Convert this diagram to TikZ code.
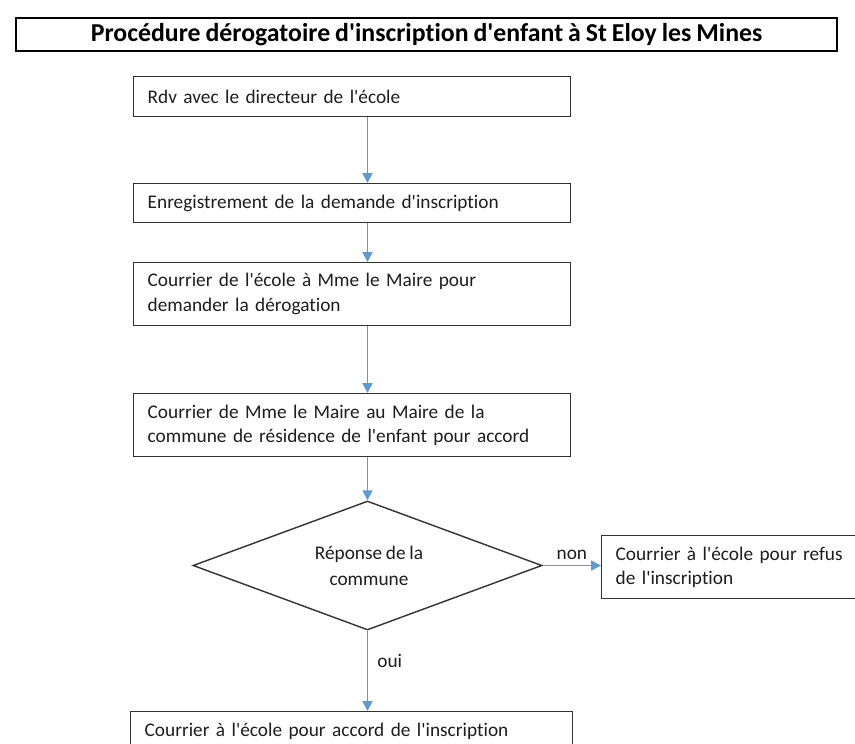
\documentclass[tikz,border=0pt]{standalone}
\usepackage{fontspec}
\newfontfamily\calf{Carlito}[RawFeature={-liga;-calt;-clig}, WordSpace=0.85]
\usetikzlibrary{shapes.geometric,arrows.meta}
\definecolor{arrblue}{HTML}{5B9BD5}
\definecolor{boxgray}{HTML}{333333}
\definecolor{txt}{HTML}{1E1E1E}
\tikzset{
  stepbox/.style={draw=boxgray, line width=1.4pt, rectangle, inner xsep=14pt, inner ysep=0pt,
    align=left, text=txt, font=\calf\fontsize{19.3}{24.5}\selectfont, anchor=north west},
  decide/.style={draw=boxgray, line width=1.4pt, diamond, inner sep=0pt,
    minimum width=349pt, minimum height=129pt},
  dtext/.style={align=center, text=txt, font=\calf\fontsize{19.3}{26}\selectfont, inner sep=0pt},
  arr/.style={draw=arrblue, line width=1.8pt, -{Triangle[length=10pt,width=10pt]}, arrblue},
  lbl/.style={text=txt, font=\calf\fontsize{19.3}{22}\selectfont, inner sep=0pt}
}
\begin{document}
\begin{tikzpicture}[x=1pt,y=-1pt]
\path[use as bounding box] (0,0) rectangle (855,744);
\clip (0,0) rectangle (855,744);
\fill[white] (0,0) rectangle (855,744);
% title
\node[draw=black, line width=2.2pt, minimum width=821pt, minimum height=33pt, inner sep=0pt,
  anchor=north west, font=\calf\bfseries\fontsize{25.8}{28}\selectfont, text=black] (title) at (15,17)
  {Procédure dérogatoire d'inscription d'enfant à St Eloy les Mines};
% boxes
\node[stepbox, minimum width=437pt, minimum height=40pt, text width=409pt] (b1) at (133,76)
  {Rdv avec le directeur de l'école};
\node[stepbox, minimum width=437pt, minimum height=39pt, text width=409pt] (b2) at (133,183)
  {Enregistrement de la demande d'inscription};
\node[stepbox, minimum width=437pt, minimum height=63pt, text width=409pt] (b3) at (133,262)
  {Courrier de l'école à Mme le Maire pour\\demander la dérogation};
\node[stepbox, minimum width=437pt, minimum height=63pt, text width=409pt] (b4) at (133,393)
  {Courrier de Mme le Maire au Maire de la\\commune de résidence de l'enfant pour accord};
\node[decide] (d) at (367.5,565.5) {};
\node[dtext] (dt) at (369,565.5) {Réponse de la\\commune};
\node[stepbox, minimum width=280pt, minimum height=63pt, text width=252pt] (r) at (601,535)
  {Courrier à l'école pour refus\\de l'inscription};
\node[stepbox, minimum width=442pt, minimum height=40pt, text width=414pt] (b5) at (130,711)
  {Courrier à l'école pour accord de l'inscription};
% connectors
\draw[arr] (d.north |- b1.south) -- (d.north |- b2.north);
\draw[arr] (d.north |- b2.south) -- (d.north |- b3.north);
\draw[arr] (d.north |- b3.south) -- (d.north |- b4.north);
\draw[arr] (d.north |- b4.south) -- (d.north);
\draw[arr] (d.east) -- (d.east -| r.west) node[lbl, midway, above=5pt] {non};
\draw[arr] (d.south) -- (d.south |- b5.north) node[lbl, pos=0.38, right=9pt] {oui};
\end{tikzpicture}
\end{document}
